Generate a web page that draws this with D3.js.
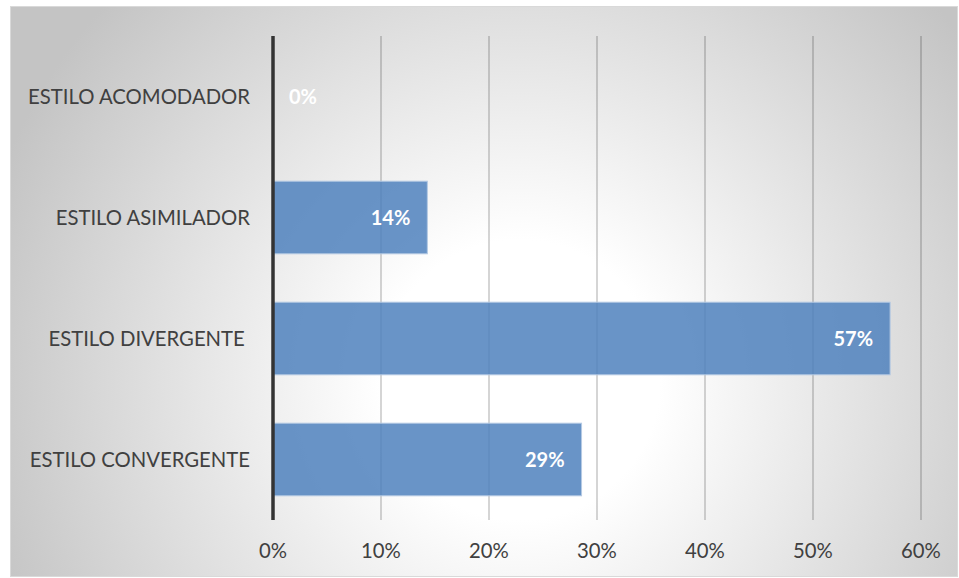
<!DOCTYPE html>
<html>
<head>
  <script src="https://d3js.org/d3.v7.min.js"></script>
  <style>
    body, html { margin: 0; padding: 0; overflow: hidden; background: #fff; }
    text { font-family: Lato, "Open Sans", sans-serif; }
  </style>
</head>
<body>
  <div id="chart"></div>
  <script>
    // data
    const categories = ["ESTILO ACOMODADOR", "ESTILO ASIMILADOR", "ESTILO DIVERGENTE ", "ESTILO CONVERGENTE"];
    const values = [0, 14.29, 57.14, 28.57];
    const valueLabels = ["0%", "14%", "57%", "29%"];
    const ticks = [0, 10, 20, 30, 40, 50, 60];

    const width = 959, height = 578;
    const margin = { top: 36, right: 38, bottom: 58, left: 273 };

    const svg = d3.select("#chart").append("svg")
      .attr("width", width)
      .attr("height", height);

    // background gradient
    const defs = svg.append("defs");
    const grad = defs.append("radialGradient")
      .attr("id", "bg")
      .attr("gradientUnits", "userSpaceOnUse")
      .attr("cx", 520).attr("cy", 380).attr("r", 560);
    grad.append("stop").attr("offset", "0%").attr("stop-color", "#ffffff");
    grad.append("stop").attr("offset", "25%").attr("stop-color", "#ffffff");
    grad.append("stop").attr("offset", "100%").attr("stop-color", "#c4c4c4");

    svg.append("rect")
      .attr("x", 10.5).attr("y", 6.5)
      .attr("width", 947).attr("height", 570)
      .attr("fill", "url(#bg)")
      .attr("stroke", "#d9d9d9");

    const x = d3.scaleLinear()
      .domain([0, 60])
      .range([margin.left, width - margin.right]);

    const y = d3.scaleBand()
      .domain(categories)
      .range([margin.top, height - margin.bottom])
      .paddingInner(0.4)
      .paddingOuter(0.2);

    // gridlines
    svg.append("g")
      .selectAll("line")
      .data(ticks.slice(1))
      .join("line")
      .attr("x1", d => x(d)).attr("x2", d => x(d))
      .attr("y1", margin.top).attr("y2", height - margin.bottom)
      .attr("stroke", "rgba(0,0,0,0.28)")
      .attr("stroke-width", 1.2);

    // bars
    svg.append("g")
      .selectAll("rect")
      .data(categories)
      .join("rect")
      .attr("x", x(0))
      .attr("y", d => y(d))
      .attr("width", (d, i) => x(values[i]) - x(0))
      .attr("height", y.bandwidth())
      .attr("fill", "rgba(79,129,189,0.85)")
      .attr("stroke", "#b4c9e3")
      .attr("stroke-width", 1)
      .style("display", (d, i) => values[i] > 0 ? null : "none");

    // axis line at 0
    svg.append("line")
      .attr("x1", x(0)).attr("x2", x(0))
      .attr("y1", margin.top).attr("y2", height - margin.bottom)
      .attr("stroke", "#333333")
      .attr("stroke-width", 3.5);

    // value labels
    svg.append("g")
      .selectAll("text")
      .data(categories)
      .join("text")
      .attr("x", (d, i) => values[i] > 0 ? x(values[i]) - 17 : x(0) + 16)
      .attr("y", d => y(d) + y.bandwidth() / 2)
      .attr("dy", "0.35em")
      .attr("text-anchor", (d, i) => values[i] > 0 ? "end" : "start")
      .attr("fill", "#ffffff")
      .attr("font-weight", "bold")
      .attr("font-size", 20)
      .text((d, i) => valueLabels[i]);

    // category labels
    svg.append("g")
      .selectAll("text")
      .data(categories)
      .join("text")
      .attr("x", x(0) - 23)
      .attr("y", d => y(d) + y.bandwidth() / 2)
      .attr("dy", "0.35em")
      .attr("text-anchor", "end")
      .attr("fill", "#404040")
      .attr("font-size", 20.3)
      .style("white-space", "pre")
      .text(d => d);

    // tick labels
    svg.append("g")
      .selectAll("text")
      .data(ticks)
      .join("text")
      .attr("x", d => x(d))
      .attr("y", 551)
      .attr("dy", "0.35em")
      .attr("text-anchor", "middle")
      .attr("fill", "#404040")
      .attr("font-size", 20.3)
      .text(d => d + "%");
  </script>
</body>
</html>
